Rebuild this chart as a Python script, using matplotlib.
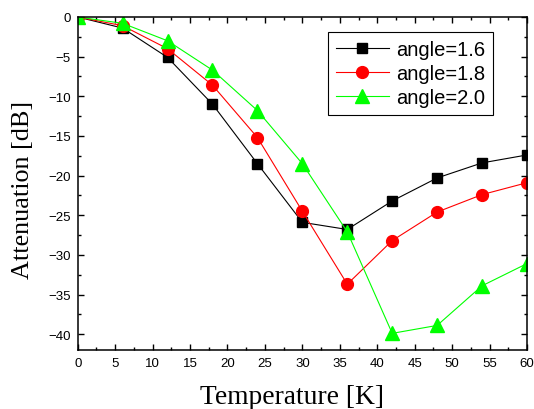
import matplotlib
matplotlib.use('Agg')
import matplotlib.pyplot as plt
from matplotlib.ticker import MultipleLocator

### Data
temperature = [0, 6, 12, 18, 24, 30, 36, 42, 48, 54, 60]  # in K
att_16 = [0, -1.4, -5.1, -11.0, -18.5, -25.9, -26.8, -23.2, -20.3, -18.4, -17.4]
att_18 = [0, -1.1, -4.0, -8.6, -15.2, -24.5, -33.7, -28.2, -24.6, -22.4, -20.9]
att_20 = [0, -0.8, -3.0, -6.7, -11.8, -18.5, -27.1, -39.9, -38.9, -33.9, -31.1]
labels = ['angle=1.6', 'angle=1.8', 'angle=2.0']

plt.rcParams['font.family'] = ['Liberation Sans', 'DejaVu Sans']

fig = plt.figure(figsize=(5.34, 4.10), dpi=100)
ax = fig.add_axes([0.1455, 0.1439, 0.8414, 0.8122])

ax.plot(temperature, att_16, color='k', lw=0.8, marker='s', ms=7.5, label=labels[0])
ax.plot(temperature, att_18, color='#FF0000', lw=0.8, marker='o', ms=8.5, label=labels[1])
ax.plot(temperature, att_20, color='#00FF00', lw=0.8, marker='^', ms=10, label=labels[2])

ax.set_xlim(0, 60)
ax.set_ylim(-42, 0)
ax.xaxis.set_major_locator(MultipleLocator(5))
ax.xaxis.set_minor_locator(MultipleLocator(2.5))
ax.yaxis.set_major_locator(MultipleLocator(5))
ax.yaxis.set_minor_locator(MultipleLocator(2.5))
ax.tick_params(which='both', direction='in', top=True, right=True, width=1.0, labelsize=9.5, pad=5)
ax.tick_params(which='major', length=4.5)
ax.tick_params(which='minor', length=2.3)
for sp in ax.spines.values():
    sp.set_linewidth(1.1)

ax.set_xlabel('Temperature [K]', family='Liberation Serif', fontsize=19.8, labelpad=11)
ax.set_ylabel('Attenuation [dB]', family='Liberation Serif', fontsize=18.8, labelpad=10)
# labels sit a bit off-centre in the original
ax.xaxis.label.set_x(0.478)
ax.yaxis.label.set_y(0.485)

leg = ax.legend(loc='upper right', bbox_to_anchor=(0.924, 0.955), borderaxespad=0,
                fontsize=14.5, handlelength=2.6, handletextpad=0.35, labelspacing=0.25,
                fancybox=False, edgecolor='k', framealpha=1, borderpad=0.4)
leg.get_frame().set_linewidth(0.8)

plt.savefig('out.png', dpi=100)
